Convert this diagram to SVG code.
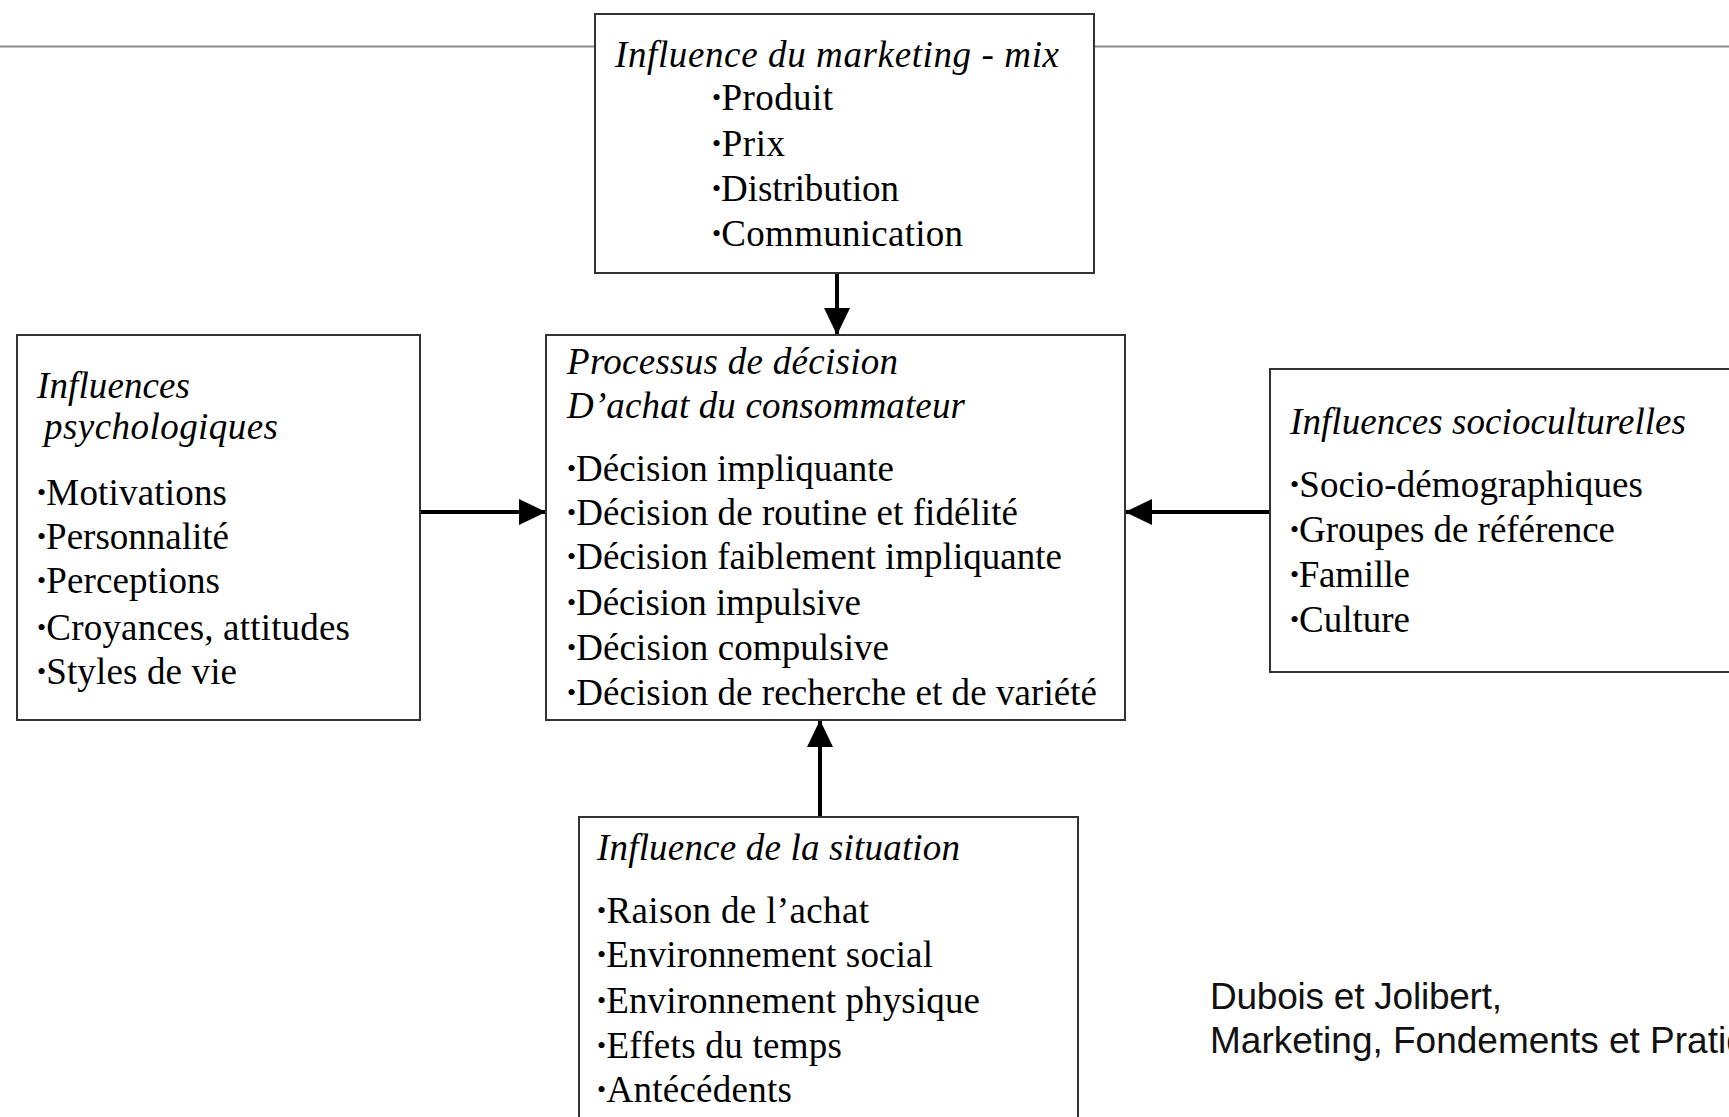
<svg xmlns="http://www.w3.org/2000/svg" width="1729" height="1117" viewBox="0 0 1729 1117" xml:space="preserve">
<style>
  .box { fill: #ffffff; stroke: #333333; stroke-width: 2; }
  .t { font-family: "Liberation Serif", "Times New Roman", serif; font-size: 37px; fill: #000; }
  .ti { font-family: "Liberation Serif", "Times New Roman", serif; font-size: 37px; font-style: italic; fill: #000; }
  .b { font-size: 26px; baseline-shift: 4px; }
  .src { font-family: "Liberation Sans", Arial, sans-serif; font-size: 37px; fill: #111; }
  .conn { stroke: #000; stroke-width: 4; fill: none; marker-end: url(#ah); }
  .rule { stroke: #8a8a8a; stroke-width: 2; }
</style>
<defs>
  <marker id="ah" markerUnits="userSpaceOnUse" markerWidth="28" markerHeight="28" viewBox="0 0 28 28" refX="27" refY="14" orient="auto">
    <path d="M0,1 L27,14 L0,27 Z" fill="#000"/>
  </marker>
</defs>
<rect x="0" y="0" width="1729" height="1117" fill="#ffffff"/>
<g id="rule">
  <line class="rule" x1="0" y1="46.5" x2="595" y2="46.5"/>
  <line class="rule" x1="1094" y1="46.5" x2="1729" y2="46.5"/>
</g>
<g id="connectors">
  <line class="conn" x1="837" y1="273" x2="837" y2="335"/>
  <line class="conn" x1="420" y1="512" x2="546" y2="512"/>
  <line class="conn" x1="1270" y1="512" x2="1125" y2="512"/>
  <line class="conn" x1="820" y1="817" x2="820" y2="720"/>
</g>
<g id="marketing-mix">
  <rect class="box" x="595" y="14" width="499" height="259"/>
  <text class="ti" x="615" y="67" textLength="444">Influence du marketing -  mix</text>
  <text class="t" x="712" y="110" textLength="121"><tspan class="b">•</tspan>Produit</text>
  <text class="t" x="712" y="156" textLength="73"><tspan class="b">•</tspan>Prix</text>
  <text class="t" x="712" y="201" textLength="187"><tspan class="b">•</tspan>Distribution</text>
  <text class="t" x="712" y="246" textLength="251"><tspan class="b">•</tspan>Communication</text>
</g>
<g id="psychologiques">
  <rect class="box" x="17" y="335" width="403" height="385"/>
  <text class="ti" x="37" y="398" textLength="153">Influences</text>
  <text class="ti" x="44" y="439" textLength="234">psychologiques</text>
  <text class="t" x="37" y="505" textLength="190"><tspan class="b">•</tspan>Motivations</text>
  <text class="t" x="37" y="549" textLength="192"><tspan class="b">•</tspan>Personnalité</text>
  <text class="t" x="37" y="593" textLength="183"><tspan class="b">•</tspan>Perceptions</text>
  <text class="t" x="37" y="640" textLength="313"><tspan class="b">•</tspan>Croyances, attitudes</text>
  <text class="t" x="37" y="684" textLength="200"><tspan class="b">•</tspan>Styles de vie</text>
</g>
<g id="processus">
  <rect class="box" x="546" y="335" width="579" height="385"/>
  <text class="ti" x="567" y="374" textLength="331">Processus de décision</text>
  <text class="ti" x="567" y="418" textLength="398">D’achat du consommateur</text>
  <text class="t" x="567" y="481" textLength="327"><tspan class="b">•</tspan>Décision impliquante</text>
  <text class="t" x="567" y="525" textLength="451"><tspan class="b">•</tspan>Décision de routine et fidélité</text>
  <text class="t" x="567" y="569" textLength="495"><tspan class="b">•</tspan>Décision faiblement impliquante</text>
  <text class="t" x="567" y="615" textLength="294"><tspan class="b">•</tspan>Décision impulsive</text>
  <text class="t" x="567" y="660" textLength="322"><tspan class="b">•</tspan>Décision compulsive</text>
  <text class="t" x="567" y="705" textLength="530"><tspan class="b">•</tspan>Décision de recherche et de variété</text>
</g>
<g id="socioculturelles">
  <rect class="box" x="1270" y="369" width="480" height="303"/>
  <text class="ti" x="1290" y="434" textLength="396">Influences socioculturelles</text>
  <text class="t" x="1290" y="497" textLength="353"><tspan class="b">•</tspan>Socio-démographiques</text>
  <text class="t" x="1290" y="542" textLength="325"><tspan class="b">•</tspan>Groupes de référence</text>
  <text class="t" x="1290" y="587" textLength="120"><tspan class="b">•</tspan>Famille</text>
  <text class="t" x="1290" y="632" textLength="120"><tspan class="b">•</tspan>Culture</text>
</g>
<g id="situation">
  <rect class="box" x="579" y="817" width="499" height="330"/>
  <text class="ti" x="597" y="860" textLength="363">Influence de la situation</text>
  <text class="t" x="597" y="923" textLength="272"><tspan class="b">•</tspan>Raison de l’achat</text>
  <text class="t" x="597" y="967" textLength="336"><tspan class="b">•</tspan>Environnement social</text>
  <text class="t" x="597" y="1013" textLength="383"><tspan class="b">•</tspan>Environnement physique</text>
  <text class="t" x="597" y="1058" textLength="245"><tspan class="b">•</tspan>Effets du temps</text>
  <text class="t" x="597" y="1102" textLength="195"><tspan class="b">•</tspan>Antécédents</text>
</g>
<g id="source">
  <text class="src" x="1210" y="1009" textLength="292">Dubois et Jolibert,</text>
  <text class="src" x="1210" y="1053">Marketing, Fondements et Pratiques</text>
</g>
</svg>
